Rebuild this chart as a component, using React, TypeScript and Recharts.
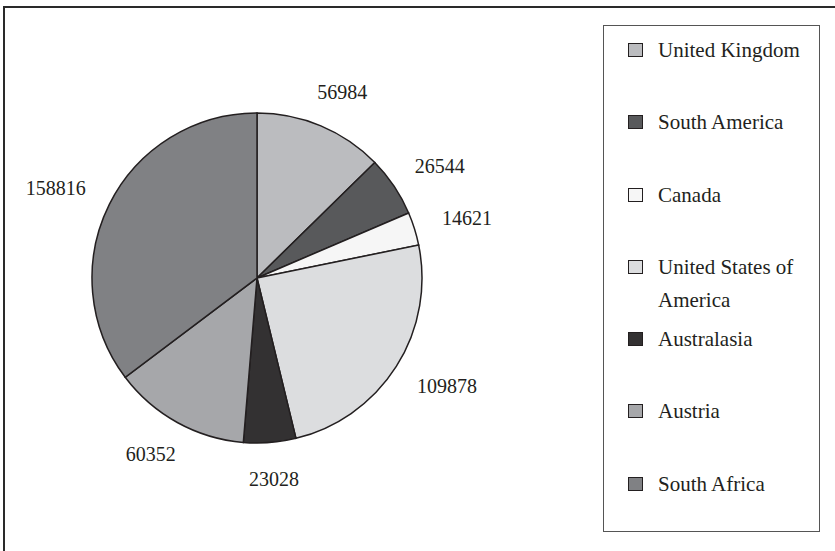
import { PieChart, Pie, Cell, Legend } from "recharts";

// visitor counts by region
const regions = [
    "United Kingdom",
    "South America",
    "Canada",
    "United States of America",
    "Australasia",
    "Austria",
    "South Africa",
];
const visitors = [56984, 26544, 14621, 109878, 23028, 60352, 158816];

const data = regions.map((name, i) => ({ name, value: visitors[i] }));

const sliceColors = ["#bbbcbf", "#58595b", "#f6f6f6", "#dcdddf", "#333132", "#a6a7aa", "#808184"];
const ink = "#231f20";
const serif = "'Liberation Serif', 'Times New Roman', serif";
const RAD = Math.PI / 180;

// label box sits just outside the arc, pushed out along the slice's mid angle
function renderLabel(props: any) {
    const { cx, cy, midAngle, outerRadius, value } = props;
    const theta = 90 - midAngle; // clockwise from 12 o'clock
    const s = Math.sin(theta * RAD);
    const c = Math.cos(theta * RAD);
    const r = outerRadius + 30;
    const w = String(value).length * 10;
    const h = 13;
    const x = cx + r * s + (s * w) / 2;
    const y = cy - r * c - (c * h) / 2;
    return (
        <text x={x} y={y} textAnchor="middle" dominantBaseline="central" fill={ink} fontSize={20} fontFamily={serif}>
            {value}
        </text>
    );
}

// keep the legend in data order (recharts sorts the payload by name otherwise)
function renderLegend() {
    return (
        <div
            style={{
                boxSizing: "border-box",
                width: 217,
                height: 507,
                border: "1.5px solid #555",
                background: "#fff",
                paddingTop: 8,
                fontFamily: serif,
                fontSize: 21,
                color: ink,
            }}
        >
            {regions.map((name, i) => (
                <div key={name} style={{ display: "flex", alignItems: "flex-start", height: 72.3 }}>
                    <span
                        style={{
                            boxSizing: "border-box",
                            width: 15,
                            height: 14,
                            marginLeft: 24,
                            marginTop: 9,
                            border: `1.5px solid ${ink}`,
                            background: sliceColors[i],
                            flex: "none",
                        }}
                    />
                    <span style={{ marginLeft: 15, width: 155, lineHeight: "33px" }}>{name}</span>
                </div>
            ))}
        </div>
    );
}

export default function App() {
    return (
        <div style={{ position: "fixed", left: 0, top: 0, width: 835, height: 551, overflow: "hidden", background: "#fff" }}>
            <div
                style={{
                    position: "absolute",
                    left: 3,
                    top: 6,
                    width: 900,
                    height: 700,
                    border: "2px solid #2a2a2a",
                }}
            />
            <div style={{ position: "absolute", left: 0, top: 0 }}>
                <PieChart width={835} height={551} margin={{ top: 0, right: 0, bottom: 0, left: 0 }}>
                    <Pie
                        data={data}
                        dataKey="value"
                        nameKey="name"
                        cx={257}
                        cy={278}
                        outerRadius={165}
                        startAngle={90}
                        endAngle={-270}
                        stroke={ink}
                        strokeWidth={1.5}
                        label={renderLabel}
                        labelLine={false}
                        isAnimationActive={false}
                    >
                        {data.map((d, i) => (
                            <Cell key={d.name} fill={sliceColors[i]} />
                        ))}
                    </Pie>
                    <Legend
                        layout="vertical"
                        align="right"
                        verticalAlign="top"
                        content={renderLegend}
                        wrapperStyle={{ left: 603, top: 25, right: "auto", bottom: "auto", width: 217, height: 507 }}
                    />
                </PieChart>
            </div>
        </div>
    );
}
